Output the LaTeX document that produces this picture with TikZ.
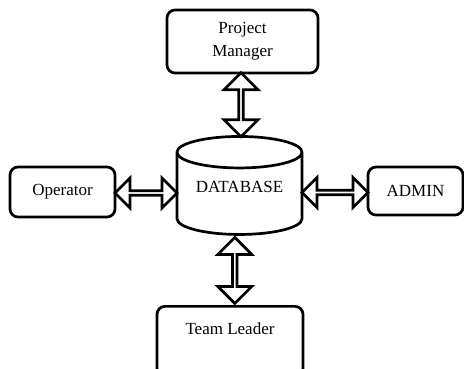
\documentclass[tikz,border=0pt]{standalone}
\usepackage{fontspec}
\setmainfont{Liberation Serif}
\usetikzlibrary{shapes.geometric,shapes.arrows}

\tikzset{
  box/.style={draw, line width=2.7pt, rounded corners=8pt, align=center,
    font=\fontsize{17}{23}\selectfont},
  dbarrow/.style={draw, line width=2.7pt, double arrow, double arrow tip angle=90,
    minimum width=34pt, double arrow head extend=9pt, inner sep=0pt},
  sidearrow/.style={dbarrow, minimum width=30pt, double arrow head extend=8pt}
}

\begin{document}
\begin{tikzpicture}[x=1pt,y=-1pt]
\useasboundingbox (0,0) rectangle (464,368);
\clip (0,0) rectangle (464,368);

% the database in the middle
\node[draw, line width=2.7pt, cylinder, shape border rotate=90, aspect=0.36,
  minimum width=125pt, minimum height=98pt, inner sep=0pt, text depth=14pt,
  font=\fontsize{17}{23}\selectfont] (db) at (239.5,194) {DATABASE};

% users round it
\node[box, minimum width=151pt, minimum height=63pt] (pm) at (242.5,41.5) {Project\\Manager};
\node[box, minimum width=105pt, minimum height=50pt] (op) at (62.5,192) {Operator};
\node[box, minimum width=95pt, minimum height=48pt] (ad) at (415.5,191) {ADMIN};
\node[box, anchor=north, minimum width=146pt, text height=14pt, text depth=28pt,
  inner ysep=14pt] (tl) at (230,305) {Team Leader};

% two way links
\path (pm.south) -- (db.north) node[midway, dbarrow, rotate=90, minimum height=64pt] (a1) {};
\path (op.east) -- (db.west) node[midway, sidearrow, minimum height=62pt] (a2) {};
\path (db.east) -- (ad.west) node[midway, sidearrow, minimum height=66pt] (a3) {};
\path (db.south) -- (tl.north) node[midway, dbarrow, rotate=90, minimum height=66pt] (a4) {};

\end{tikzpicture}
\end{document}
